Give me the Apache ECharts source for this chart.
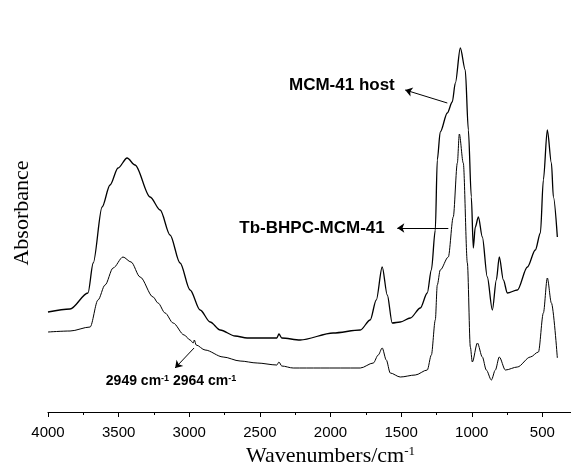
<!DOCTYPE html>
<html>
<head>
<meta charset="utf-8">
<script src="https://cdn.jsdelivr.net/npm/echarts@6/dist/echarts.min.js"></script>
<style>
  html, body { margin: 0; padding: 0; background: #fff; }
  #main { width: 571px; height: 465px; }
</style>
</head>
<body>
<div id="main"></div>
<script>
// FTIR spectra, absorbance in arbitrary units
var hostWavenumber = [4000, 3844, 3717, 3680, 3617, 3561, 3504, 3440, 3384, 3277, 3206, 3136, 3065, 2994, 2923, 2852, 2781, 2675, 2590, 2463, 2380, 2365, 2345, 2215, 1981, 1789, 1719, 1676, 1634, 1598, 1563, 1506, 1435, 1364, 1315, 1286, 1258, 1244, 1223, 1173, 1138, 1116, 1081, 1046, 1024, 1003, 989, 975, 953, 925, 890, 854, 826, 805, 776, 748, 677, 606, 550, 514, 493, 465, 436, 422, 394];
var hostAbsorbance = [100, 103, 119, 149, 205, 227, 244, 254, 247, 215, 202, 177, 149, 122, 102, 90, 82, 76, 74, 74, 74, 78, 74, 72, 79, 82, 92, 112, 145, 117, 89, 90, 94, 104, 119, 142, 182, 252, 280, 299, 310, 329, 364, 342, 282, 215, 164, 185, 195, 175, 135, 102, 132, 155, 132, 119, 122, 145, 162, 179, 232, 282, 249, 215, 175];

var tbWavenumber = [4000, 3844, 3702, 3646, 3596, 3539, 3469, 3412, 3348, 3256, 3221, 3171, 3114, 3036, 2994, 2972, 2964, 2951, 2888, 2760, 2640, 2519, 2380, 2365, 2345, 2264, 2073, 1789, 1697, 1662, 1634, 1605, 1577, 1506, 1400, 1315, 1286, 1258, 1244, 1223, 1166, 1131, 1102, 1088, 1060, 1031, 1010, 996, 960, 925, 897, 861, 833, 805, 762, 677, 585, 528, 493, 465, 436, 394];
var tbAbsorbance = [80, 81, 85, 112, 127, 144, 155, 150, 135, 115, 109, 99, 89, 77, 72, 69, 72, 67, 62, 55, 51, 49, 47, 50, 46, 44, 44, 44, 49, 57, 64, 52, 39, 35, 37, 42, 57, 92, 127, 142, 155, 195, 249, 278, 249, 149, 65, 50, 69, 55, 42, 32, 42, 55, 42, 45, 55, 60, 99, 134, 109, 54];

var seriesNames = ['MCM-41 host', 'Tb-BHPC-MCM-41'];

// annotation arrows: [fromWavenumber, fromAbs, toWavenumber, toAbs]
var arrowHost = [1173, 309, 1471, 322];
var arrowTb = [1166, 184, 1527, 184];
var arrowCH = [2966, 64, 3100, 44];

// annotation text anchors: [wavenumber, abs]
var textHostAt = [1506, 327];
var textTbAt = [1577, 184];
var textCHAt = [3129, 31];

function zip(xs, ys) {
    return xs.map(function (x, i) { return [x, ys[i]]; });
}

function arrow(a) {
    return [{coord: [a[0], a[1]]}, {coord: [a[2], a[3]]}];
}

var myChart = echarts.init(document.getElementById('main'));

var sans = 'Liberation Sans';
var serif = 'Liberation Serif';

var option = {
    animation: false,
    backgroundColor: '#fff',
    grid: {left: 48, top: 14, width: 565, height: 398, containLabel: false, outerBoundsMode: 'none'},
    xAxis: {
        type: 'value',
        min: 0,
        max: 4000,
        interval: 500,
        inverse: true,
        name: '{a|Wavenumbers/cm}{b|-1}',
        nameLocation: 'middle',
        nameGap: 33,
        nameTextStyle: {
            rich: {
                a: {fontFamily: serif, fontSize: 22, color: '#000'},
                b: {fontFamily: serif, fontSize: 13, color: '#000', verticalAlign: 'top'}
            }
        },
        axisLine: {lineStyle: {color: '#000', width: 1.2}},
        axisTick: {show: true, inside: false, length: 5, lineStyle: {color: '#000'}},
        minorTick: {show: true, splitNumber: 2, length: 3, lineStyle: {color: '#000'}},
        axisLabel: {
            color: '#000', fontFamily: sans, fontSize: 15, margin: 13,
            formatter: function (v) { return v === 0 ? '' : v; }
        },
        splitLine: {show: false}
    },
    yAxis: {
        type: 'value',
        min: 0,
        max: 398,
        name: 'Absorbance',
        nameLocation: 'middle',
        nameGap: 15,
        nameTextStyle: {fontFamily: serif, fontSize: 22, color: '#000'},
        axisLine: {show: true, lineStyle: {color: '#000', width: 1.2}},
        axisTick: {show: false},
        axisLabel: {show: false},
        splitLine: {show: false}
    },
    series: [
        {
            name: seriesNames[0],
            type: 'line',
            data: zip(hostWavenumber, hostAbsorbance),
            showSymbol: false,
            smooth: 0.3,
            smoothMonotone: 'x',
            lineStyle: {color: '#000', width: 1.3},
            markLine: {
                silent: true,
                symbol: ['none', 'arrow'],
                symbolSize: 7,
                label: {show: false},
                lineStyle: {color: '#000', width: 1, type: 'solid'},
                data: [arrow(arrowHost), arrow(arrowTb), arrow(arrowCH)]
            },
            markPoint: {
                silent: true,
                symbol: 'circle',
                symbolSize: 1,
                itemStyle: {color: 'rgba(0,0,0,0)'},
                data: [
                    {coord: textHostAt, label: {show: true, position: 'left', distance: 5,
                        formatter: seriesNames[0], color: '#000', fontFamily: sans, fontWeight: 'bold', fontSize: 17}},
                    {coord: textTbAt, label: {show: true, position: 'left', distance: 5,
                        formatter: seriesNames[1], color: '#000', fontFamily: sans, fontWeight: 'bold', fontSize: 17}},
                    {coord: textCHAt, label: {show: true, position: 'inside',
                        formatter: '{a|2949 cm}{b|-1}{a| 2964 cm}{b|-1}',
                        rich: {
                            a: {color: '#000', fontFamily: sans, fontWeight: 'bold', fontSize: 14},
                            b: {color: '#000', fontFamily: sans, fontWeight: 'bold', fontSize: 9, verticalAlign: 'top'}
                        }}}
                ]
            }
        },
        {
            name: seriesNames[1],
            type: 'line',
            data: zip(tbWavenumber, tbAbsorbance),
            showSymbol: false,
            smooth: 0.3,
            smoothMonotone: 'x',
            lineStyle: {color: '#000', width: 1}
        }
    ]
};

myChart.setOption(option);
</script>
</body>
</html>
